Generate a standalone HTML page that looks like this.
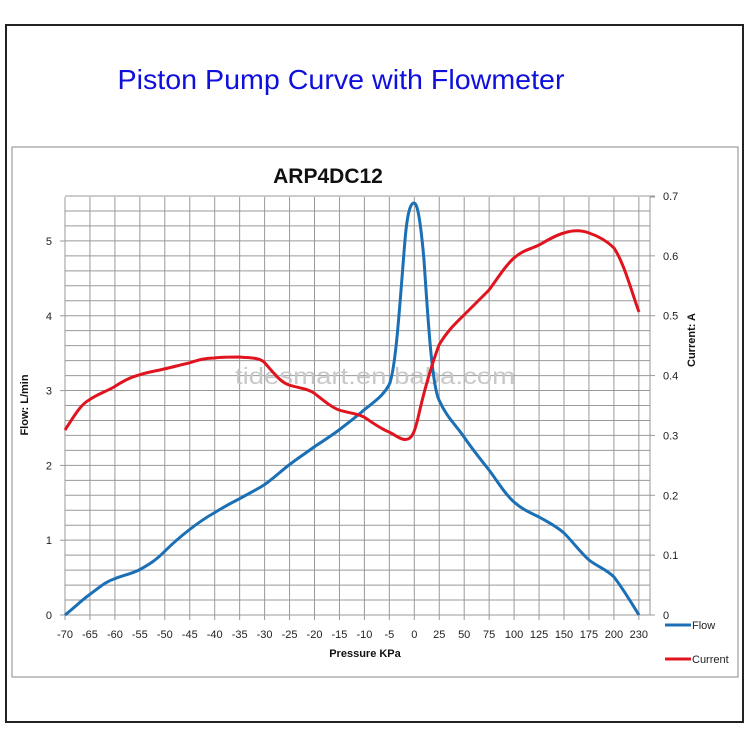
<!DOCTYPE html>
<html><head><style>
body{margin:0;background:#fff;}
svg{display:block;font-family:"Liberation Sans",sans-serif;}
</style></head><body>
<svg width="750" height="750" viewBox="0 0 750 750">
<rect x="0" y="0" width="750" height="750" fill="#fff"/>
<rect x="6" y="25" width="737" height="697" fill="none" stroke="#222" stroke-width="2"/>
<rect x="12" y="147" width="726" height="530" fill="none" stroke="#888" stroke-width="1"/>
<text x="341" y="89" font-size="28" fill="#1010dd" text-anchor="middle" textLength="447" lengthAdjust="spacingAndGlyphs">Piston Pump Curve with Flowmeter</text>
<text x="328" y="183" font-size="21" font-weight="bold" fill="#111" text-anchor="middle">ARP4DC12</text>
<g stroke="#999" stroke-width="1" id="grid"></g>
<g id="g"></g>
<text x="375" y="384" font-size="23" fill="#c8c8c8" text-anchor="middle" textLength="280" lengthAdjust="spacingAndGlyphs">tidesmart.en.baba.com</text>
<path d="M65,615 C75,607 82,600 89,595 C100,587 105,582 114,579 C124,575 131,574 139,570 C150,564 156,560 164,552 C172,544 180,537 189,530 C198,523 205,518 214,513 C222,508 231,503 239,499 C248,494 256,490 264,485 C273,479 281,471 289,465 C298,458 306,453 314,447 C323,441 331,436 339,430 C348,423 356,417 364,410 C374,402 383,396 389,385 C396,370 400,300 405,240 C408,205 412,203 414,203 C417,203 420,215 424,260 C428,320 432,385 439,400 C447,418 456,425 464,437 C473,450 481,460 489,470 C498,482 505,494 514,502 C523,510 531,513 539,517 C548,522 556,526 564,533 C573,542 580,552 589,560 C598,567 606,569 614,577 C624,590 632,604 639,615" fill="none" stroke="#1a6fb5" stroke-width="3"/>
<path d="M65,430 C73,418 80,405 89,400 C98,394 105,392 114,387 C123,381 131,377 139,375 C148,372 156,371 164,369 C173,367 180,365 189,363 C198,360 205,358 214,358 C222,357 231,357 239,357 C248,358 258,357 264,362 C273,372 280,382 289,385 C298,388 306,388 314,393 C323,400 331,407 339,410 C348,413 356,413 364,417 C373,423 381,429 389,432 C397,436 402,441 408,439 C413,437 415,430 418,418 C422,400 428,375 439,345 C448,330 456,323 464,315 C473,306 481,298 489,290 C498,278 505,266 514,258 C523,250 531,249 539,245 C548,240 556,235 564,233 C573,230 581,230 589,233 C598,236 606,240 614,248 C624,263 631,290 639,312" fill="none" stroke="#e0141e" stroke-width="3"/>
<line x1="665" y1="625" x2="691" y2="625" stroke="#1a6fb5" stroke-width="3"/>
<text x="692" y="629" font-size="11" fill="#222">Flow</text>
<line x1="665" y1="659" x2="691" y2="659" stroke="#e0141e" stroke-width="3"/>
<text x="692" y="663" font-size="11" fill="#222">Current</text>
<text x="365" y="657" font-size="11" font-weight="bold" fill="#111" text-anchor="middle">Pressure KPa</text>
<text transform="translate(28,405) rotate(-90)" font-size="11" font-weight="bold" fill="#111" text-anchor="middle">Flow:  L/min</text>
<text transform="translate(695,340) rotate(-90)" font-size="11" font-weight="bold" fill="#111" text-anchor="middle">Current:  A</text>
</svg>
<script>
var ns="http://www.w3.org/2000/svg",g=document.getElementById("grid"),t=document.getElementById("g");
function L(p,x1,y1,x2,y2,c){var l=document.createElementNS(ns,"line");l.setAttribute("x1",x1);l.setAttribute("y1",y1);l.setAttribute("x2",x2);l.setAttribute("y2",y2);if(c)l.setAttribute("stroke",c);p.appendChild(l);}
function T(x,y,s,a){var e=document.createElementNS(ns,"text");e.setAttribute("x",x);e.setAttribute("y",y);e.setAttribute("font-size","11");e.setAttribute("fill","#222");e.setAttribute("text-anchor",a);e.textContent=s;t.appendChild(e);}
for(var i=0;i<=28;i++){var y=615-i*419/28;L(g,65,y,650,y);}
var labs=["-70","-65","-60","-55","-50","-45","-40","-35","-30","-25","-20","-15","-10","-5","0","25","50","75","100","125","150","175","200","230"];
for(var i=0;i<24;i++){var x=65+i*24.95;L(g,x,197,x,620);T(x,638,labs[i],"middle");}
L(g,650,197,650,615);L(g,650,197,655,197);
for(var i=0;i<=5;i++){var y=615-i*74.8;T(52,y+4,""+i,"end");L(g,60,y,65,y);}
for(var i=0;i<=7;i++){var y=615-i*59.86;T(663,y+4,i==0?"0":(i/10).toFixed(1),"start");L(g,650,y,655,y);}
</script>
</body></html>
